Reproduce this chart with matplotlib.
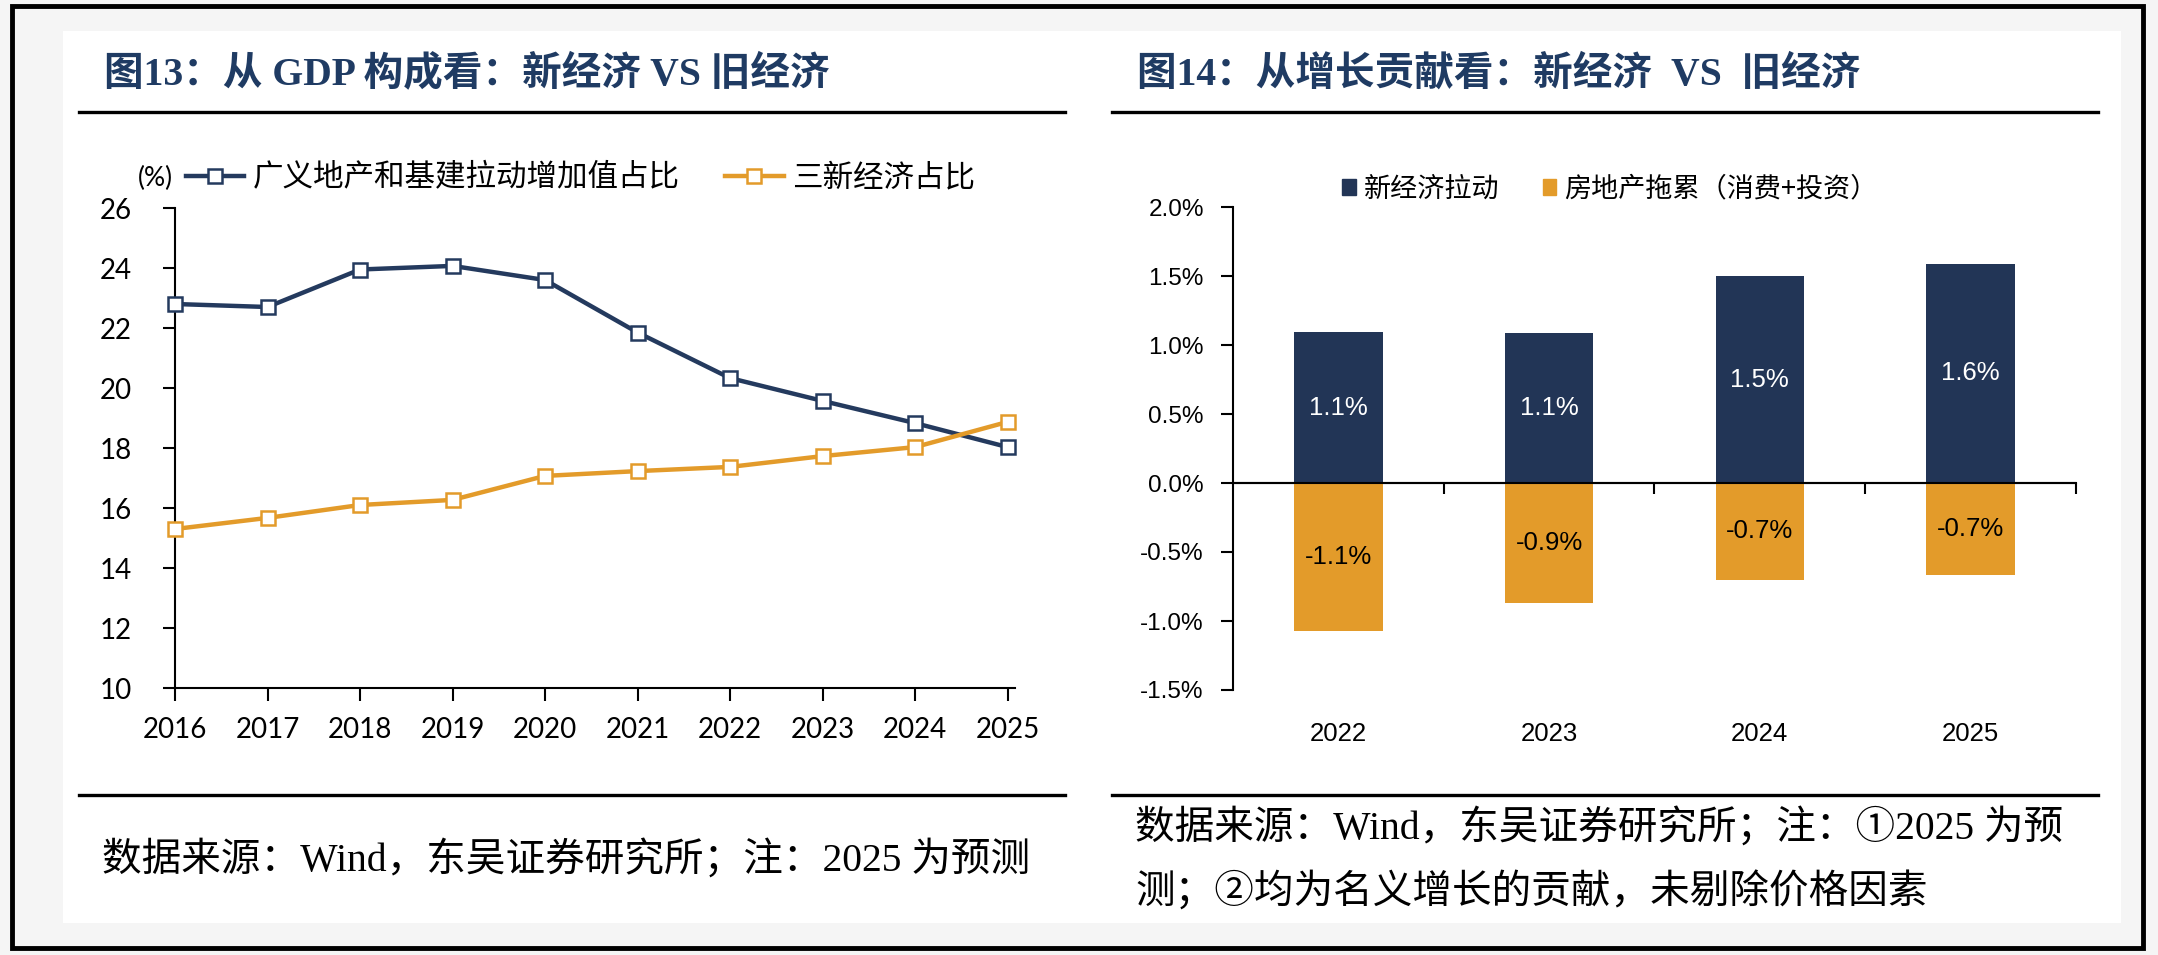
import numpy as np
import matplotlib
matplotlib.use("Agg")
import matplotlib.pyplot as plt
from matplotlib.patches import Rectangle, Patch
from matplotlib.ticker import FuncFormatter

plt.rcParams["axes.unicode_minus"] = False

# ---- data ----
YEARS = [2016, 2017, 2018, 2019, 2020, 2021, 2022, 2023, 2024, 2025]
OLD_SHARE = [22.8, 22.7, 23.95, 24.07, 23.6, 21.85, 20.33, 19.57, 18.83, 18.03]
NEW_SHARE = [15.3, 15.67, 16.1, 16.27, 17.07, 17.23, 17.37, 17.73, 18.03, 18.87]
LEGEND_L = ["广义地产和基建拉动增加值占比", "三新经济占比"]

BAR_YEARS = ["2022", "2023", "2024", "2025"]
NEW_PULL = [1.094, 1.09, 1.50, 1.587]
RE_DRAG = [-1.07, -0.87, -0.70, -0.67]
LEGEND_R = ["新经济拉动", "房地产拖累（消费+投资）"]

TITLE_L = "图13：从 GDP 构成看：新经济 VS 旧经济"
TITLE_R = "图14：从增长贡献看：新经济  VS  旧经济"
NOTE_L = "数据来源：Wind，东吴证券研究所；注：2025 为预测"
NOTE_R1 = "数据来源：Wind，东吴证券研究所；注：①2025 为预"
NOTE_R2 = "测；②均为名义增长的贡献，未剔除价格因素"

NAVY = "#243a5e"
BARNAVY = "#223556"
ORANGE = "#e39b2a"
TITLE_C = "#1f3b63"
W, H = 2158, 955
CJK = ["Liberation Serif", "Noto Sans CJK SC"]
CJK_SANS = ["Noto Sans CJK SC", "DejaVu Sans"]

fig = plt.figure(figsize=(W / 100, H / 100), dpi=100)
fig.patch.set_facecolor("#f5f5f5")


def fx(px):
    return px / W


def fy(py):
    return 1 - py / H


# frame + white panel
fig.add_artist(Rectangle((fx(12), fy(948)), fx(2131), 942 / H, transform=fig.transFigure,
                         fill=False, edgecolor="black", linewidth=3.5))
fig.add_artist(Rectangle((fx(63), fy(923)), fx(2058), 892 / H, transform=fig.transFigure,
                         facecolor="white", edgecolor="none", zorder=0))

# titles and rules
fig.text(fx(104), fy(74), TITLE_L, family=CJK, fontweight="bold", fontsize=28.5,
         color=TITLE_C, va="center", ha="left")
fig.text(fx(1137), fy(74), TITLE_R, family=CJK, fontweight="bold", fontsize=28.5,
         color=TITLE_C, va="center", ha="left")
for x0, x1 in [(79, 1065), (1112, 2098)]:
    for yy in (112, 795):
        fig.add_artist(plt.Line2D([fx(x0), fx(x1)], [fy(yy), fy(yy)], transform=fig.transFigure,
                                  color="black", linewidth=2.4))

fig.text(fx(102), fy(860), NOTE_L, family=CJK, fontsize=28.5, va="center", ha="left")
fig.text(fx(1135), fy(828), NOTE_R1, family=CJK, fontsize=28.5, va="center", ha="left")
fig.text(fx(1135), fy(893), NOTE_R2, family=CJK, fontsize=28.5, va="center", ha="left")

# ---- left: line chart ----
ax = fig.add_axes([fx(175), fy(688), fx(840), 480 / H])
ax.plot(YEARS, OLD_SHARE, color=NAVY, linewidth=3.2, marker="s", markersize=10,
        markerfacecolor="white", markeredgecolor=NAVY, markeredgewidth=1.8,
        label=LEGEND_L[0], clip_on=False, zorder=3)
ax.plot(YEARS, NEW_SHARE, color=ORANGE, linewidth=3.2, marker="s", markersize=10,
        markerfacecolor="white", markeredgecolor=ORANGE, markeredgewidth=1.8,
        label=LEGEND_L[1], clip_on=False, zorder=3)
ax.set_xlim(2016, 2025.08)
ax.set_ylim(10, 26)
ax.set_yticks(range(10, 27, 2))
ax.set_xticks(YEARS)
for s in ("top", "right"):
    ax.spines[s].set_visible(False)
for s in ("left", "bottom"):
    ax.spines[s].set_linewidth(1.5)
ax.tick_params(axis="y", direction="out", length=9, width=1.5, pad=22, labelsize=20)
ax.tick_params(axis="x", direction="out", length=9, width=1.5, pad=12, labelsize=20)
for lab in ax.get_xticklabels() + ax.get_yticklabels():
    lab.set_family("Lato")
ax.legend(loc="center left", bbox_to_anchor=(fx(186), fy(178)), bbox_transform=fig.transFigure,
          ncol=2, frameon=False, prop={"family": CJK_SANS, "size": 22},
          handlelength=1.9, handletextpad=0.28, columnspacing=1.5, borderpad=0, borderaxespad=0)
fig.text(fx(138), fy(178), "(%)", family="Lato", fontsize=19, va="center", ha="left")

# ---- right: bar chart ----
bx = fig.add_axes([fx(1233), fy(690), fx(843), 483 / H])
xpos = np.arange(len(BAR_YEARS))
b1 = bx.bar(xpos, NEW_PULL, width=0.42, color=BARNAVY, label=LEGEND_R[0], zorder=2)
b2 = bx.bar(xpos, RE_DRAG, width=0.42, color=ORANGE, label=LEGEND_R[1], zorder=2)
bx.bar_label(b1, labels=[f"{v:.1f}%" for v in NEW_PULL], label_type="center",
             color="white", fontsize=18.5, family="Liberation Sans")
bx.bar_label(b2, labels=[f"{v:.1f}%" for v in RE_DRAG], label_type="center",
             color="black", fontsize=18.5, family="Liberation Sans")
bx.set_xlim(-0.5, 3.5)
bx.set_ylim(-1.5, 2.0)
bx.set_yticks(np.arange(-1.5, 2.01, 0.5))
bx.yaxis.set_major_formatter(FuncFormatter(lambda v, p: f"{v:.1f}%"))
bx.set_xticks(xpos)
bx.set_xticklabels(BAR_YEARS)
for s in ("top", "right", "bottom"):
    bx.spines[s].set_visible(False)
bx.spines["left"].set_linewidth(1.5)
bx.tick_params(axis="y", direction="out", length=9, width=1.5, pad=12, labelsize=17.5)
bx.tick_params(axis="x", length=0, pad=23, labelsize=18.5)
for lab in bx.get_xticklabels() + bx.get_yticklabels():
    lab.set_family("Liberation Sans")
bx.axhline(0, color="black", linewidth=1.5, zorder=3)
zero = bx.secondary_xaxis(1.5 / 3.5)
zero.set_xticks([0.5, 1.5, 2.5, 3.5])
zero.tick_params(direction="out", length=8, width=1.5, labelbottom=False, labeltop=False)
zero.spines["bottom"].set_linewidth(1.5)
bx.legend(handles=[Patch(color=BARNAVY, label=LEGEND_R[0]), Patch(color=ORANGE, label=LEGEND_R[1])],
          loc="center left", bbox_to_anchor=(fx(1342), fy(189)), bbox_transform=fig.transFigure,
          ncol=2, frameon=False, prop={"family": CJK_SANS, "size": 19.5},
          handlelength=0.5, handleheight=0.5, handletextpad=0.3, columnspacing=1.6,
          borderpad=0, borderaxespad=0)

fig.savefig("out.png", dpi=100, facecolor=fig.get_facecolor())
